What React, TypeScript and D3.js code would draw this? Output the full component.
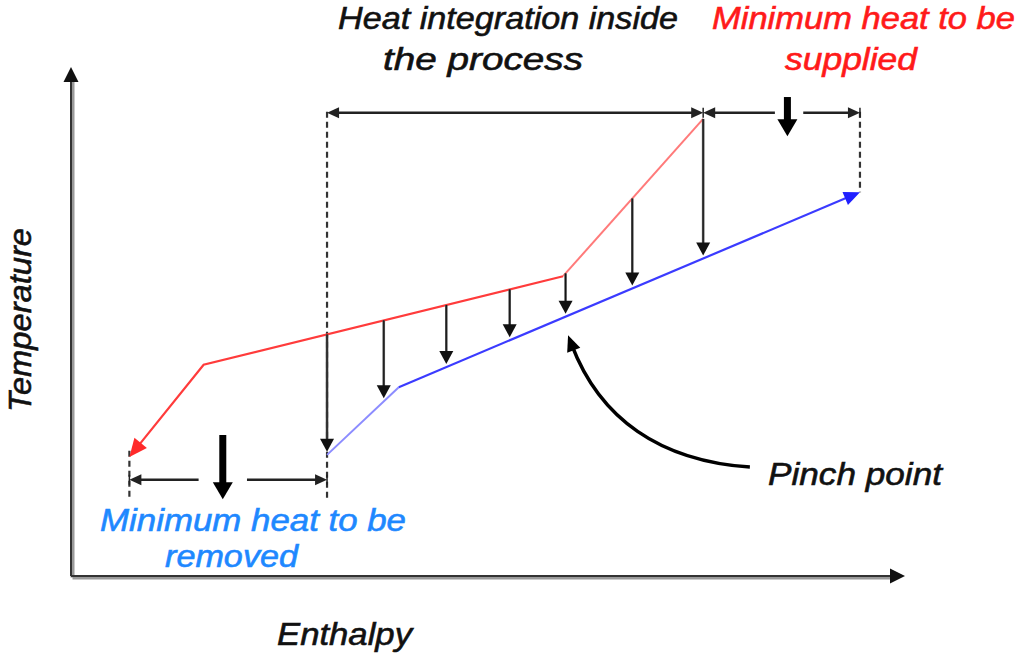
import React from "react";
import * as d3 from "d3";

const WIDTH = 1024;
const HEIGHT = 659;

// Data units: enthalpy (0-100) along x, temperature (0-100) along y
const hotEnthalpy = [7.0, 15.9, 59.0, 75.8];
const hotTemp = [23.4, 41.5, 58.9, 89.8];
const coldEnthalpy = [30.7, 39.3, 94.6];
const coldTemp = [23.8, 37.1, 75.4];
const transferEnthalpy = [30.7, 37.5, 45.0, 52.6, 59.3, 67.3, 75.8];
// pinch pointer: cubic bezier start, control1, control2, end
const pinchArrowEnthalpy = [81.4, 70.6, 63.4, 59.6];
const pinchArrowTemp = [21.4, 22.6, 30.9, 47.3];

// dimension spans: [from, to, level, gapFrom, gapTo]
const integrationSpan = [30.7, 75.8, 91.0];
const supplySpan = [75.8, 94.6, 91.0, 84.4, 87.8];
const removalSpan = [7.0, 30.7, 18.9, 15.3, 21.1];
// bold arrows: [enthalpy, tempFrom, tempTo]
const supplyArrow = [85.9, 94.1, 86.4];
const removalArrow = [18.2, 27.7, 15.1];
// dashed extension lines: [enthalpy, tempFrom, tempTo]
const extLines = [
  [7.0, 24.6, 15.1],
  [30.7, 91.2, 15.1],
  [94.6, 91.2, 75.4],
];

const FONT = "'Liberation Sans Narrow', 'Liberation Sans', Arial, sans-serif";

function interp(xs: number[], ys: number[], v: number) {
  for (let i = 0; i < xs.length - 1; i++) {
    if (v <= xs[i + 1] || i === xs.length - 2) {
      const t = (v - xs[i]) / (xs[i + 1] - xs[i]);
      return ys[i] + t * (ys[i + 1] - ys[i]);
    }
  }
  return ys[ys.length - 1];
}

function head(tx: number, ty: number, fx: number, fy: number, len: number, hw: number) {
  const dx = tx - fx, dy = ty - fy;
  const d = Math.hypot(dx, dy) || 1;
  const ux = dx / d, uy = dy / d;
  const bx = tx - ux * len, by = ty - uy * len;
  const nx = -uy, ny = ux;
  return `${tx},${ty} ${bx + nx * hw},${by + ny * hw} ${bx - nx * hw},${by - ny * hw}`;
}

function shorten(tx: number, ty: number, fx: number, fy: number, by: number) {
  const dx = tx - fx, dy = ty - fy;
  const d = Math.hypot(dx, dy) || 1;
  return [tx - (dx / d) * by, ty - (dy / d) * by];
}

export default function App() {
  const x = d3.scaleLinear().domain([0, 100]).range([71, 905]);
  const y = d3.scaleLinear().domain([0, 100]).range([576, 67]);

  const line = d3.line<[number, number]>().x((d) => x(d[0])).y((d) => y(d[1]));
  const hotPts: [number, number][] = hotEnthalpy.map((h, i) => [h, hotTemp[i]]);
  const coldPts: [number, number][] = coldEnthalpy.map((h, i) => [h, coldTemp[i]]);
  const pp = pinchArrowEnthalpy.map((h, i) => [x(h), y(pinchArrowTemp[i])]);

  const ink = "#222";

  const hotTip = [x(hotPts[0][0]), y(hotPts[0][1])];
  const hotPrev = [x(hotPts[1][0]), y(hotPts[1][1])];
  const coldTip = [x(coldPts[coldPts.length - 1][0]), y(coldPts[coldPts.length - 1][1])];
  const coldPrev = [x(coldPts[coldPts.length - 2][0]), y(coldPts[coldPts.length - 2][1])];

  const hotShort = shorten(hotTip[0], hotTip[1], hotPrev[0], hotPrev[1], 10);
  const coldShort = shorten(coldTip[0], coldTip[1], coldPrev[0], coldPrev[1], 10);

  const pEnd = shorten(pp[3][0], pp[3][1], pp[2][0], pp[2][1], 10);
  const pinchPath = d3.path();
  pinchPath.moveTo(pp[0][0], pp[0][1]);
  pinchPath.bezierCurveTo(pp[1][0], pp[1][1], pp[2][0], pp[2][1], pEnd[0], pEnd[1]);

  const dimHead = (tx: number, ty: number, dir: number) => (
    <g>
      <polygon points={head(tx, ty, tx - dir * 10, ty, 12, 5.5)} fill={ink} />
      <line x1={tx} x2={tx} y1={ty - 5} y2={ty + 5} stroke={ink} strokeWidth={1.5} />
    </g>
  );

  const boldArrow = (a: number[]) => {
    const xx = x(a[0]);
    const y0 = y(a[1]);
    const y1 = y(a[2]);
    return (
      <g>
        <line x1={xx} x2={xx} y1={y0} y2={y1 - 12} stroke="#000" strokeWidth={7} />
        <polygon points={head(xx, y1, xx, y0, 17, 10)} fill="#000" />
      </g>
    );
  };

  const splitSpan = (s: number[]) => {
    const yy = y(s[2]);
    return (
      <g>
        <line x1={x(s[0]) + 8} x2={x(s[3])} y1={yy} y2={yy} stroke={ink} strokeWidth={2.5} />
        <line x1={x(s[4])} x2={x(s[1]) - 8} y1={yy} y2={yy} stroke={ink} strokeWidth={2.5} />
        {dimHead(x(s[0]), yy, -1)}
        {dimHead(x(s[1]), yy, 1)}
      </g>
    );
  };

  const axisShadow = "#9a9a9a";

  const txt = (
    s: string,
    tx: number,
    ty: number,
    len: number,
    fill: string,
    transform?: string
  ) => (
    <text
      x={transform ? 0 : tx}
      y={transform ? 0 : ty}
      transform={transform}
      textLength={len}
      lengthAdjust="spacingAndGlyphs"
      fill={fill}
      stroke={fill}
      strokeWidth={0.6}
    >
      {s}
    </text>
  );

  return (
    <svg
      width={WIDTH}
      height={HEIGHT}
      style={{ position: "absolute", left: 0, top: 0, background: "#fff" }}
    >
      {/* axes */}
      <g>
        <line x1={x(0) + 1.5} x2={x(0) + 1.5} y1={y(0) + 1.5} y2={y(100) + 14} stroke={axisShadow} strokeWidth={4} />
        <line x1={x(0) + 1.5} x2={x(100) - 12} y1={y(0) + 1.5} y2={y(0) + 1.5} stroke={axisShadow} strokeWidth={4} />
        <line x1={x(0)} x2={x(0)} y1={y(0)} y2={y(100) + 12} stroke="#333" strokeWidth={2} />
        <line x1={x(0)} x2={x(100) - 12} y1={y(0)} y2={y(0)} stroke="#333" strokeWidth={2} />
        <polygon points={head(x(0), y(100), x(0), y(50), 15, 7.5)} fill="#111" />
        <polygon points={head(x(100), y(0), x(50), y(0), 15, 7.5)} fill="#111" />
      </g>

      {/* dashed extension lines */}
      {extLines.map((e, i) => (
        <line
          key={"ext" + i}
          x1={x(e[0])}
          x2={x(e[0])}
          y1={y(e[1])}
          y2={y(e[2])}
          stroke="#333"
          strokeWidth={2.2}
          strokeDasharray="6,4"
        />
      ))}

      {/* hot composite curve */}
      <path
        d={line([[x.invert(hotShort[0]), y.invert(hotShort[1])], ...hotPts.slice(1, 3)]) || ""}
        fill="none"
        stroke="#ff3b3b"
        strokeWidth={2.2}
      />
      <path d={line(hotPts.slice(2)) || ""} fill="none" stroke="#ff7a7a" strokeWidth={2} />
      <polygon points={head(hotTip[0], hotTip[1], hotPrev[0], hotPrev[1], 18, 8)} fill="#ff2a2a" />

      {/* cold composite curve */}
      <path d={line(coldPts.slice(0, 2)) || ""} fill="none" stroke="#8c8cff" strokeWidth={2} />
      <path
        d={line([coldPts[1], [x.invert(coldShort[0]), y.invert(coldShort[1])]]) || ""}
        fill="none"
        stroke="#3b3bff"
        strokeWidth={2.2}
      />
      <polygon points={head(coldTip[0], coldTip[1], coldPrev[0], coldPrev[1], 16, 7)} fill="#2020ff" />

      {/* heat transfer arrows */}
      {transferEnthalpy.map((h, i) => {
        const xx = x(h);
        const top = y(interp(hotEnthalpy, hotTemp, h));
        const tip = y(interp(coldEnthalpy, coldTemp, h)) - 3;
        return (
          <g key={"tr" + i}>
            <line x1={xx} x2={xx} y1={top} y2={tip - 10} stroke="#555" strokeWidth={2.6} />
            <line x1={xx} x2={xx} y1={top} y2={tip - 10} stroke="#111" strokeWidth={1} />
            <polygon points={head(xx, tip, xx, top, 13, 7)} fill="#111" />
          </g>
        );
      })}

      {/* integration span */}
      <g>
        <line
          x1={x(integrationSpan[0]) + 8}
          x2={x(integrationSpan[1]) - 8}
          y1={y(integrationSpan[2])}
          y2={y(integrationSpan[2])}
          stroke={ink}
          strokeWidth={2.5}
        />
        <polygon points={head(x(integrationSpan[0]), y(integrationSpan[2]), x(integrationSpan[0]) + 10, y(integrationSpan[2]), 12, 5.5)} fill={ink} />
        <polygon points={head(x(integrationSpan[1]), y(integrationSpan[2]), x(integrationSpan[1]) - 10, y(integrationSpan[2]), 12, 5.5)} fill={ink} />
      </g>
      {splitSpan(supplySpan)}
      {splitSpan(removalSpan)}
      {boldArrow(supplyArrow)}
      {boldArrow(removalArrow)}

      {/* pinch pointer */}
      <path d={pinchPath.toString()} fill="none" stroke="#000" strokeWidth={3.5} />
      <polygon points={head(pp[3][0], pp[3][1], pp[2][0], pp[2][1], 16, 7)} fill="#000" />

      {/* texts */}
      <g fontFamily={FONT} fontStyle="italic" fontSize={32}>
        {txt("Heat integration inside", 338, 29, 340, "#111")}
        {txt("the process", 383, 70, 200, "#111")}
        {txt("Minimum heat to be", 712, 29, 303, "#ff1a1a")}
        {txt("supplied", 785, 70, 132, "#ff1a1a")}
        {txt("Minimum heat to be", 100, 531, 306, "#1e88ff")}
        {txt("removed", 165, 567, 133, "#1e88ff")}
        {txt("Pinch point", 768, 485, 174, "#111")}
        {txt("Enthalpy", 277, 645, 135, "#111")}
        {txt("Temperature", 0, 0, 184, "#111", "translate(31,412) rotate(-90)")}
      </g>
    </svg>
  );
}
